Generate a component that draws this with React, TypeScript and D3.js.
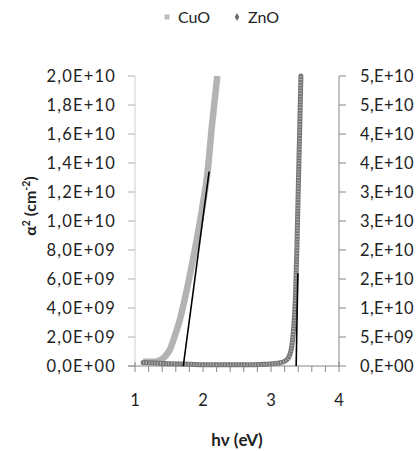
import React from "react";
import * as d3 from "d3";

// CuO: alpha^2 (left axis, cm^-2) vs photon energy (eV)
const cuoEnergy = [1.12, 1.2, 1.3, 1.37, 1.45, 1.51, 1.58, 1.66, 1.75, 1.85, 1.985, 2.07, 2.13, 2.21];
const cuoAlpha2 = [0.3e9, 0.3e9, 0.3e9, 0.4e9, 0.7e9, 1.1e9, 2.0e9, 3.2e9, 5.0e9, 7.3e9, 10.8e9, 13.5e9, 16.5e9, 20e9];

// ZnO: alpha^2 (right axis) vs photon energy
const znoEnergy = [1.12, 1.3, 1.5, 1.8, 2.0, 2.3, 2.6, 2.9, 3.1, 3.2, 3.26, 3.3, 3.33, 3.36, 3.38, 3.4, 3.42, 3.44];
const znoAlpha2 = [0.06e10, 0.05e10, 0.04e10, 0.03e10, 0.02e10, 0.02e10, 0.02e10, 0.03e10, 0.05e10, 0.08e10, 0.15e10, 0.3e10, 0.6e10, 1.2e10, 2.0e10, 3.0e10, 4.0e10, 5.0e10];

// Linear fits (tangent lines)
const cuoFitEnergy = [1.71, 2.09];
const cuoFitAlpha2 = [0, 1.34e10];
const znoFitEnergy = [3.37, 3.395];
const znoFitAlpha2 = [0, 1.6e10];

const xTicks = [1, 2, 3, 4];
const leftTicks = [0, 2e9, 4e9, 6e9, 8e9, 1e10, 1.2e10, 1.4e10, 1.6e10, 1.8e10, 2e10];
const leftLabels = ["0,0E+00", "2,0E+09", "4,0E+09", "6,0E+09", "8,0E+09", "1,0E+10", "1,2E+10", "1,4E+10", "1,6E+10", "1,8E+10", "2,0E+10"];
const rightTicks = [0, 5e9, 1e10, 1.5e10, 2e10, 2.5e10, 3e10, 3.5e10, 4e10, 4.5e10, 5e10];
const rightLabels = ["0,E+00", "5,E+09", "1,E+10", "2,E+10", "2,E+10", "3,E+10", "3,E+10", "4,E+10", "4,E+10", "5,E+10", "5,E+10"];
const seriesNames = ["CuO", "ZnO"];

const W = 417;
const H = 451;
const FONT = "Lato, 'Open Sans', sans-serif";

export default function App() {
  const x = d3.scaleLinear().domain([1, 4]).range([135, 339]);
  const yL = d3.scaleLinear().domain([0, 2e10]).range([366, 76]);
  const yR = d3.scaleLinear().domain([0, 5e10]).range([366, 76]);

  const cuoLine = d3
    .line<number>()
    .x((_, i) => x(cuoEnergy[i]))
    .y((d) => yL(d))
    .curve(d3.curveMonotoneX)(cuoAlpha2) as string;
  const znoLine = d3
    .line<number>()
    .x((_, i) => x(znoEnergy[i]))
    .y((d) => yR(d))
    .curve(d3.curveMonotoneX)(znoAlpha2) as string;
  const cuoFit = d3.line<number>().x((_, i) => x(cuoFitEnergy[i])).y((d) => yL(d))(cuoFitAlpha2) as string;
  const znoFit = d3.line<number>().x((_, i) => x(znoFitEnergy[i])).y((d) => yR(d))(znoFitAlpha2) as string;

  const minorTicks = d3.range(1, 4.0001, 0.2).filter((v) => Math.abs(v - Math.round(v)) > 0.01);
  const axisColor = "#868686";
  const y0 = yL(0);

  return (
    <svg width={W} height={H} style={{ position: "absolute", left: 0, top: 0, background: "#fff" }} fontFamily={FONT}>
      {/* left axis */}
      <line x1={x(1)} x2={x(1)} y1={yL(2e10)} y2={y0} stroke="#cfcfcf" strokeWidth={1} />
      {leftTicks.map((t, i) => (
        <g key={"l" + i}>
          <line x1={x(1) - 7} x2={x(1)} y1={yL(t)} y2={yL(t)} stroke="#b0b0b0" />
          <text x={116} y={yL(t)} dy="0.36em" textAnchor="end" fontSize={16.5} letterSpacing={1.2} fill="#222">
            {leftLabels[i]}
          </text>
        </g>
      ))}
      {/* right axis */}
      <line x1={x(4)} x2={x(4)} y1={yR(5e10)} y2={y0} stroke={axisColor} />
      {rightTicks.map((t, i) => (
        <g key={"r" + i}>
          <line x1={x(4)} x2={x(4) + 7} y1={yR(t)} y2={yR(t)} stroke={axisColor} />
          <text x={360} y={yR(t)} dy="0.36em" textAnchor="start" fontSize={16.5} letterSpacing={0.4} fill="#222">
            {rightLabels[i]}
          </text>
        </g>
      ))}
      {/* x axis */}
      <line x1={x(1) - 7} x2={x(4)} y1={y0} y2={y0} stroke={axisColor} />
      {xTicks.map((t) => (
        <g key={"x" + t}>
          <line x1={x(t)} x2={x(t)} y1={y0 - 4} y2={y0 + 6} stroke={axisColor} />
          <text x={x(t)} y={406} textAnchor="middle" fontSize={16.5} fill="#222">
            {t}
          </text>
        </g>
      ))}
      {minorTicks.map((t, i) => (
        <line key={"m" + i} x1={x(t)} x2={x(t)} y1={y0} y2={y0 + 6} stroke={axisColor} />
      ))}

      {/* series */}
      <path d={cuoLine} fill="none" stroke="#b3b3b3" strokeWidth={6.5} strokeLinejoin="round" />
      <path d={znoLine} fill="none" stroke="#767676" strokeWidth={5} strokeLinejoin="round" strokeLinecap="round" />
      <path d={znoLine} fill="none" stroke="#c4c4c4" strokeWidth={3} strokeDasharray="1 1.8" opacity={0.75} />
      <path d={cuoFit} fill="none" stroke="#000" strokeWidth={1.6} />
      <path d={znoFit} fill="none" stroke="#000" strokeWidth={1.6} />

      {/* legend */}
      <rect x={164.5} y={14.5} width={5} height={5} fill="#bdbdbd" />
      <text x={178} y={23} fontSize={16} fill="#222">{seriesNames[0]}</text>
      <path d={d3.symbol(d3.symbolDiamond, 18)() as string} transform="translate(237,17)" fill="#6a6a6a" />
      <text x={248} y={23} fontSize={16} fill="#222">{seriesNames[1]}</text>

      {/* axis titles */}
      <text transform="translate(36,206) rotate(-90)" textAnchor="middle" fontSize={16} fontWeight="bold" fill="#222">
        α<tspan dy="-6" fontSize={10.5}>2</tspan>
        <tspan dy="6"> (cm</tspan>
        <tspan dy="-6" fontSize={10.5}>-2</tspan>
        <tspan dy="6">)</tspan>
      </text>
      <text x={237} y={446} textAnchor="middle" fontSize={17} fontWeight="bold" fill="#222">
        hν (eV)
      </text>
    </svg>
  );
}
